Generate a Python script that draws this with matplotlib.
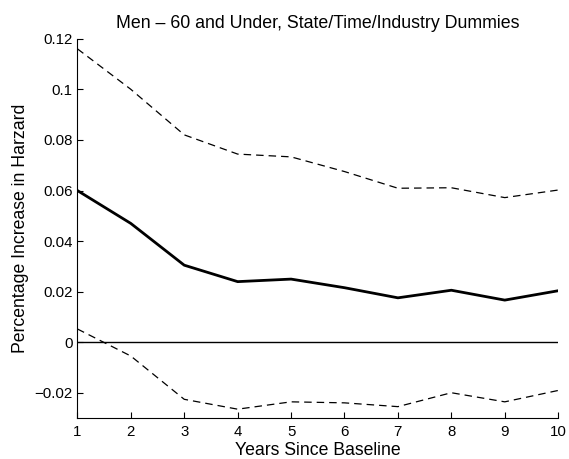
import matplotlib
matplotlib.use("Agg")
import matplotlib.pyplot as plt
from matplotlib.ticker import FuncFormatter

plt.rcParams['font.family'] = ['Liberation Sans', 'DejaVu Sans']

years = [1, 2, 3, 4, 5, 6, 7, 8, 9, 10]
estimate = [0.060, 0.047, 0.0305, 0.024, 0.025, 0.0216, 0.0176, 0.0206, 0.0167, 0.0204]
upper = [0.116, 0.100, 0.082, 0.0744, 0.0733, 0.0675, 0.0609, 0.0611, 0.0572, 0.0602]
lower = [0.0053, -0.0054, -0.0225, -0.0264, -0.0235, -0.0239, -0.0254, -0.0199, -0.0235, -0.019]
yticks = [-0.02, 0, 0.02, 0.04, 0.06, 0.08, 0.1, 0.12]

fig = plt.figure(figsize=(5.69, 4.59), dpi=100)
ax = fig.add_axes([0.136, 0.0887, 0.845, 0.827])

ax.axhline(0, color='black', lw=1.0)
ax.plot(years, estimate, color='black', lw=2.0)
ax.plot(years, upper, color='black', lw=0.9, linestyle=(0, (6, 4)))
ax.plot(years, lower, color='black', lw=0.9, linestyle=(0, (6, 4)))

ax.set_xlim(1, 10)
ax.set_ylim(-0.03, 0.12)
ax.set_xticks(years)
ax.set_yticks(yticks)
ax.yaxis.set_major_formatter(FuncFormatter(lambda v, p: ('%g' % v).replace('-', '\u2212') if abs(v) > 1e-12 else '0'))
ax.spines['top'].set_visible(False)
ax.spines['right'].set_visible(False)
ax.tick_params(direction='in', length=4, labelsize=10.8, width=0.8)
ax.tick_params(axis='x', pad=5)
for s in ax.spines.values():
    s.set_linewidth(0.8)

ax.set_title('Men \u2013 60 and Under, State/Time/Industry Dummies', fontsize=12.8, pad=8)
ax.set_xlabel('Years Since Baseline', fontsize=12.7, labelpad=2)
ax.set_ylabel('Percentage Increase in Harzard', fontsize=12.7, labelpad=3.5)

fig.savefig('out.png', dpi=100)
